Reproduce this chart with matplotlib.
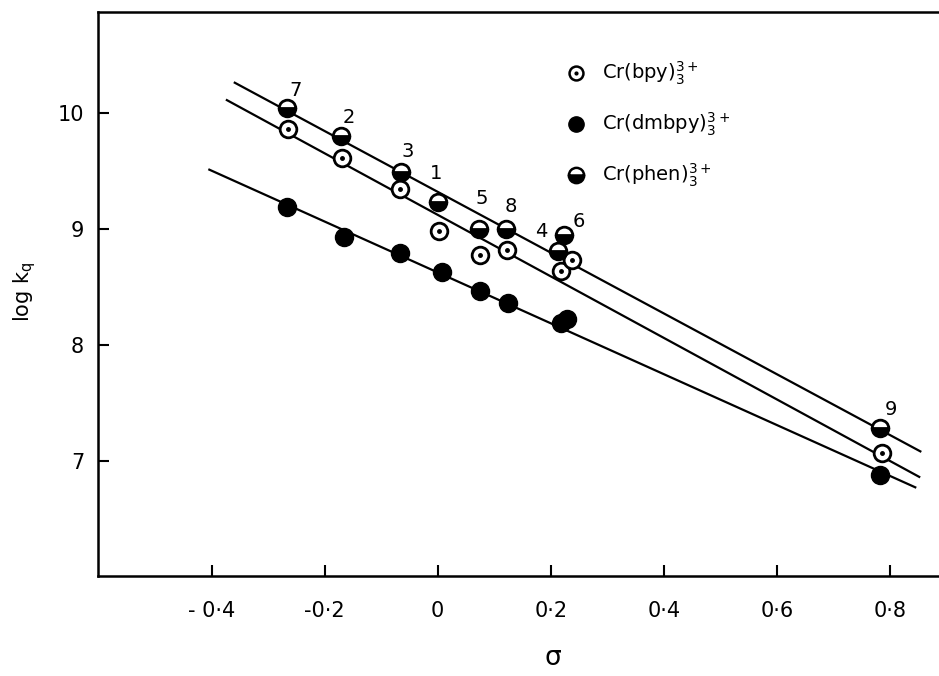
import matplotlib
matplotlib.use("Agg")
import matplotlib.pyplot as plt

plt.rcParams['font.family'] = ['DejaVu Sans']
plt.rcParams['mathtext.default'] = 'regular'

# ---- data ----
sigma_bpy = [-0.264, -0.169, -0.066, 0.002, 0.075, 0.123, 0.219, 0.237, 0.786]
logk_bpy = [9.86, 9.61, 9.34, 8.98, 8.77, 8.82, 8.64, 8.73, 7.07]

sigma_dmbpy = [-0.267, -0.165, -0.066, 0.008, 0.074, 0.125, 0.219, 0.228, 0.782]
logk_dmbpy = [9.19, 8.93, 8.79, 8.63, 8.46, 8.36, 8.19, 8.22, 6.88]

sigma_phen = [-0.267, -0.171, -0.065, 0.0, 0.073, 0.120, 0.213, 0.224, 0.783]
logk_phen = [10.04, 9.80, 9.49, 9.23, 9.00, 9.00, 8.81, 8.95, 7.28]

# fitted lines (end points)
fit_bpy_x = [-0.373, 0.852]
fit_bpy_y = [10.11, 6.86]
fit_dmbpy_x = [-0.404, 0.845]
fit_dmbpy_y = [9.51, 6.77]
fit_phen_x = [-0.359, 0.854]
fit_phen_y = [10.26, 7.08]

# compound numbers and their label positions
point_labels = ['7', '2', '3', '1', '5', '8', '4', '6', '9']
label_x = [-0.251, -0.158, -0.053, -0.003, 0.078, 0.129, 0.184, 0.249, 0.802]
label_y = [10.19, 9.96, 9.67, 9.48, 9.26, 9.19, 8.98, 9.06, 7.44]

xticks = [-0.4, -0.2, 0.0, 0.2, 0.4, 0.6, 0.8]
xticklabels = ['- 0·4', '-0·2', '0', '0·2', '0·4', '0·6', '0·8']
yticks = [7, 8, 9, 10]
yticklabels = ['7', '8', '9', '10']

legend_labels = [r'Cr(bpy)$_3^{3+}$', r'Cr(dmbpy)$_3^{3+}$', r'Cr(phen)$_3^{3+}$']

# ---- figure ----
W, H = 939, 676
fig = plt.figure(figsize=(W / 100, H / 100), dpi=100)
ax = fig.add_axes([98 / W, 100 / H, 1 - 98 / W, (576 - 12) / H])
ax.set_xlim(-0.601, 0.887)
ax.set_ylim(6.005, 10.87)

lw = 1.6
ax.plot(fit_bpy_x, fit_bpy_y, color='black', lw=lw, zorder=2)
ax.plot(fit_dmbpy_x, fit_dmbpy_y, color='black', lw=lw, zorder=2)
ax.plot(fit_phen_x, fit_phen_y, color='black', lw=lw, zorder=2)

ms = 12
# bpy: open circle with central dot
ax.plot(sigma_bpy, logk_bpy, 'o', ms=ms, mfc='white', mec='black', mew=2.0, ls='none', zorder=3)
ax.plot(sigma_bpy, logk_bpy, 'o', ms=2.5, mfc='black', mec='black', ls='none', zorder=4)
# dmbpy: filled circle
ax.plot(sigma_dmbpy, logk_dmbpy, 'o', ms=ms + 1, mfc='black', mec='black', ls='none', zorder=3)
# phen: half-filled circle
ax.plot(sigma_phen, logk_phen, 'o', ms=ms, fillstyle='bottom', mfc='black', mfcalt='white',
        mec='black', mew=2.0, ls='none', zorder=3)

for t, x, y in zip(point_labels, label_x, label_y):
    ax.text(x, y, t, fontsize=14, ha='center', va='center')

# legend drawn manually
leg_y = [10.345, 9.90, 9.465]
leg_styles = [
    dict(mfc='white', mec='black', mew=1.8, ms=10),
    dict(mfc='black', mec='black', ms=11),
    dict(fillstyle='bottom', mfc='black', mfcalt='white', mec='black', mew=1.8, ms=11),
]
for yy, st, lab in zip(leg_y, leg_styles, legend_labels):
    ax.plot([0.245], [yy], 'o', ls='none', zorder=3, **st)
    ax.text(0.290, yy, lab, fontsize=14, ha='left', va='center')
ax.plot([0.245], [leg_y[0]], 'o', ms=2, mfc='black', mec='black', zorder=4)

ax.set_xticks(xticks)
ax.set_xticklabels(xticklabels)
ax.set_yticks(yticks)
ax.set_yticklabels(yticklabels)
ax.tick_params(direction='in', length=8, width=1.5, labelsize=15, pad=10)
ax.tick_params(axis='x', pad=18)

for s in ['left', 'bottom', 'top']:
    ax.spines[s].set_linewidth(1.8)
ax.spines['right'].set_visible(False)

fig.text(553 / W, 1 - 658 / H, 'σ', fontsize=19, ha='center', va='center')
fig.text(25 / W, 1 - 292 / H, r'log k$_q$', fontsize=15, ha='center', va='center', rotation=90)

fig.savefig('out.png', dpi=100)
